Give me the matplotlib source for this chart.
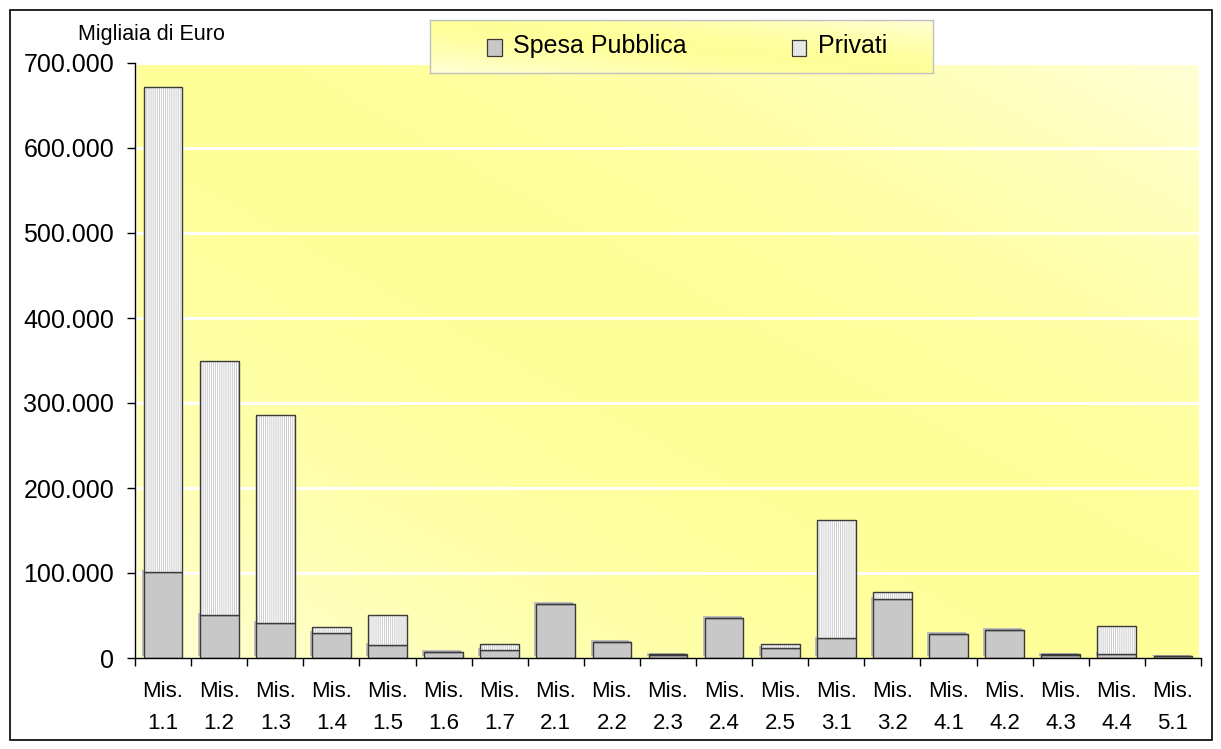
import numpy as np
import matplotlib
matplotlib.use("Agg")
import matplotlib.pyplot as plt
from matplotlib import font_manager as fm
from matplotlib.patches import Rectangle
from matplotlib.ticker import FuncFormatter, FixedLocator
import matplotlib.patheffects as pe

categories = ["1.1", "1.2", "1.3", "1.4", "1.5", "1.6", "1.7", "2.1", "2.2", "2.3",
              "2.4", "2.5", "3.1", "3.2", "4.1", "4.2", "4.3", "4.4", "5.1"]
spesa_pubblica = [101000, 51000, 41500, 30000, 15700, 6800, 9400, 63500, 18800, 3800,
                  46600, 11300, 23000, 70000, 28200, 32900, 3600, 4300, 1800]
privati = [571000, 299000, 244500, 6000, 34900, 500, 7100, 0, 0, 900,
           0, 5200, 139000, 7200, 0, 0, 700, 33200, 500]
y_ticks = [0, 100000, 200000, 300000, 400000, 500000, 600000, 700000]

names = {f.name for f in fm.fontManager.ttflist}
base = "Liberation Sans" if "Liberation Sans" in names else "DejaVu Sans"
narrow = "Liberation Sans Narrow" if "Liberation Sans Narrow" in names else base
plt.rcParams["font.family"] = [base, "DejaVu Sans"]

W, H = 1221, 749
fig = plt.figure(figsize=(W / 100, H / 100), dpi=100)
fig.patch.set_facecolor("white")

# outer border
fig.patches.append(Rectangle((10 / W, 1 - 740 / H), 1202 / W, 730 / H, transform=fig.transFigure,
                             fill=False, edgecolor="black", linewidth=1.2))

x0, x1, y0, y1 = 135, 1201, 63, 658
ax = fig.add_axes([x0 / W, 1 - y1 / H, (x1 - x0) / W, (y1 - y0) / H])


def gradient(nx=300, ny=200, light=(1.0, 1.0, 0.84), yellow=(1.0, 1.0, 0.60), p=1.8):
    xs = np.linspace(0, 1, nx)
    ys = np.linspace(1, 0, ny)
    X, Y = np.meshgrid(xs, ys)
    u = (X + Y) / 2
    m = np.abs(2 * u - 1) ** p
    img = np.zeros((ny, nx, 3))
    for c in range(3):
        img[..., c] = yellow[c] + (light[c] - yellow[c]) * m
    return img


n = len(categories)
xpos = np.arange(n)
ax.set_xlim(-0.5, n - 0.5)
ax.set_ylim(0, 700000)
ax.imshow(gradient(), extent=(-0.5 + 0.04, n - 0.5 - 0.04, 0, 697000), aspect="auto", zorder=0)
for yv in y_ticks[1:-1]:
    ax.axhline(yv, color="white", linewidth=2.2, zorder=1)

bw = 0.69
shadow = [pe.SimplePatchShadow(offset=(-1.4, 1.4), shadow_rgbFace="#bdbdbd", alpha=1.0), pe.Normal()]
pub = np.array(spesa_pubblica, dtype=float)
prv = np.array(privati, dtype=float)
ax.bar(xpos, pub, width=bw, color="#c8c8c8", edgecolor="#3a3a3a", linewidth=1.0, zorder=3,
       path_effects=shadow)
plt.rcParams["hatch.linewidth"] = 0.6
ax.bar(xpos, prv, bottom=pub, width=bw, color="white", edgecolor="#c4c4c4", hatch="||||||||",
       linewidth=0, zorder=3)
ax.bar(xpos, prv, bottom=pub, width=bw, color="none", edgecolor="#3a3a3a", linewidth=1.0, zorder=4)

for s in ["top", "right"]:
    ax.spines[s].set_visible(False)
for s in ["left", "bottom"]:
    ax.spines[s].set_color("black")
    ax.spines[s].set_linewidth(1.0)
    ax.spines[s].set_zorder(5)

ax.yaxis.set_major_locator(FixedLocator(y_ticks))
ax.yaxis.set_major_formatter(FuncFormatter(lambda v, p: f"{int(v):,}".replace(",", ".")))
ax.tick_params(axis="y", direction="out", length=6, width=1, labelsize=18, pad=9)
ax.set_xticks(np.arange(n + 1) - 0.5)
ax.set_xticklabels([])
ax.tick_params(axis="x", direction="out", length=6, width=1)
for i, c in enumerate(categories):
    ax.text(i, -0.066, "Mis.", transform=ax.get_xaxis_transform(), ha="center", va="baseline",
            fontsize=16, family=[narrow, "DejaVu Sans"])
    ax.text(i, -0.12, c, transform=ax.get_xaxis_transform(), ha="center", va="baseline",
            fontsize=16, family=[narrow, "DejaVu Sans"])

fig.text(151 / W, 1 - 40 / H, "Migliaia di Euro", ha="center", va="baseline", fontsize=15.5,
         family=[narrow, "DejaVu Sans"])

# legend
lx0, lx1, ly0, ly1 = 430, 933, 20, 73
lax = fig.add_axes([lx0 / W, 1 - ly1 / H, (lx1 - lx0) / W, (ly1 - ly0) / H])
lax.set_xlim(lx0, lx1)
lax.set_ylim(ly1, ly0)
lax.imshow(gradient(light=(1.0, 1.0, 0.85), p=1.5), extent=(lx0, lx1, ly1, ly0), aspect="auto", zorder=0)
lax.set_xticks([])
lax.set_yticks([])
for s in lax.spines.values():
    s.set_color("#c0c0c0")
    s.set_linewidth(1.0)
lax.add_patch(Rectangle((487, 39), 15, 17, facecolor="#c8c8c8", edgecolor="#3a3a3a", linewidth=0.9))
lax.add_patch(Rectangle((792, 40), 14, 16, facecolor="white", edgecolor="#c4c4c4", hatch="||||||||",
                        linewidth=0))
lax.add_patch(Rectangle((792, 40), 14, 16, facecolor="none", edgecolor="#3a3a3a", linewidth=0.9))
lax.text(513, 46, "Spesa Pubblica", ha="left", va="center", fontsize=18)
lax.text(818, 46, "Privati", ha="left", va="center", fontsize=18)

fig.savefig("out.png", dpi=100)
